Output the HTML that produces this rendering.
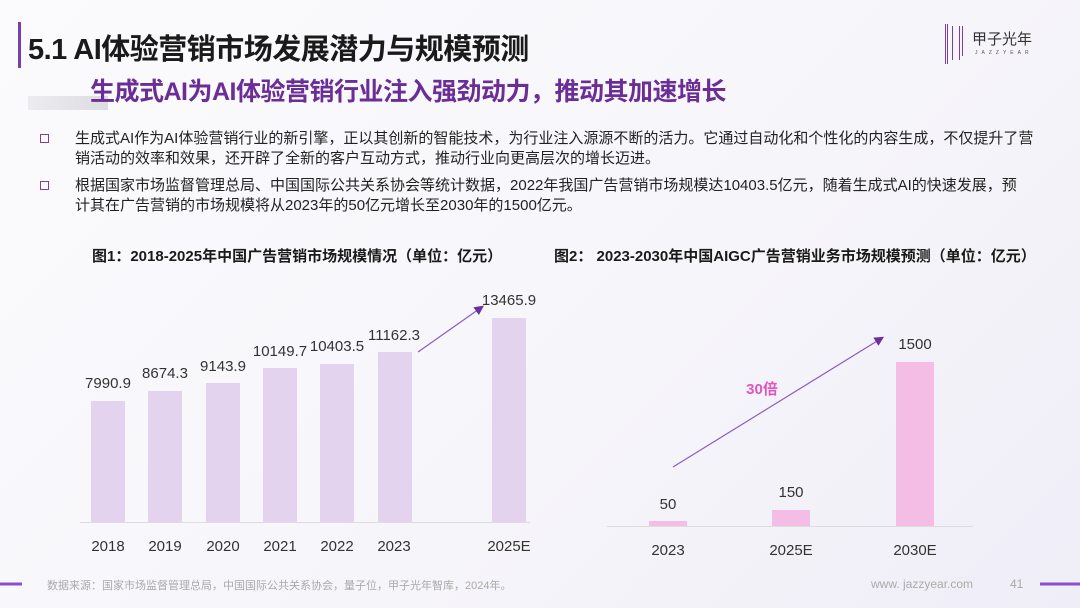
<!DOCTYPE html>
<html><head><meta charset="utf-8"><style>
*{margin:0;padding:0;box-sizing:border-box}
body{width:1080px;height:608px;overflow:hidden;background:linear-gradient(135deg,#fbfbfd 0%,#f6f5fa 60%,#efedf7 100%);font-family:"Liberation Sans","Noto Sans CJK SC",sans-serif;position:relative;color:#222}
.a{position:absolute;white-space:nowrap}
</style></head><body>
<div class="a" style="left:18px;top:22px;width:3px;height:46px;background:#7a3fa8"></div>
<div class="a" style="left:28px;top:26px;font-size:29px;font-weight:bold;color:#1a1a1a;letter-spacing:-0.5px">5.1 AI体验营销市场发展潜力与规模预测</div>
<div class="a" style="left:28px;top:96px;width:80px;height:14px;background:linear-gradient(90deg,#ececf0,#dcdce2)"></div>
<div class="a" style="left:90px;top:72px;font-size:25px;font-weight:bold;color:#6b2d96;letter-spacing:-0.5px">生成式AI为AI体验营销行业注入强劲动力，推动其加速增长</div>
<div class="a" style="left:945px;top:24px;width:3px;height:40px;border-left:1px solid #7a3fa8;border-right:1px solid #7a3fa8"></div>
<div class="a" style="left:952px;top:26px;width:8px;height:34px;border-left:1px solid #7a3fa8;border-right:1px solid #7a3fa8"></div>
<div class="a" style="left:962px;top:26px;width:4px;height:30px;border-left:1px solid #7a3fa8"></div>
<div class="a" style="left:972px;top:28px;font-size:15px;color:#333">甲子光年</div>
<div class="a" style="left:975px;top:50px;font-size:5px;letter-spacing:4px;color:#555">JAZZYEAR</div>

<div class="a" style="left:40px;top:134px;width:9px;height:9px;border:1.5px solid #7a3fa8"></div>
<div class="a" style="left:40px;top:181px;width:9px;height:9px;border:1.5px solid #7a3fa8"></div>
<div class="a" style="left:75px;top:129px;font-size:15px;line-height:20px;color:#222">生成式AI作为AI体验营销行业的新引擎，正以其创新的智能技术，为行业注入源源不断的活力。它通过自动化和个性化的内容生成，不仅提升了营<br>销活动的效率和效果，还开辟了全新的客户互动方式，推动行业向更高层次的增长迈进。</div>
<div class="a" style="left:75px;top:176px;font-size:15px;line-height:20px;color:#222">根据国家市场监督管理总局、中国国际公共关系协会等统计数据，2022年我国广告营销市场规模达10403.5亿元，随着生成式AI的快速发展，预<br>计其在广告营销的市场规模将从2023年的50亿元增长至2030年的1500亿元。</div>

<div class="a" style="left:92px;top:245px;font-size:15px;font-weight:bold;color:#1a1a1a">图1：2018-2025年中国广告营销市场规模情况（单位：亿元）</div>
<div class="a" style="left:554px;top:245px;font-size:15px;font-weight:bold;color:#1a1a1a">图2： 2023-2030年中国AIGC广告营销业务市场规模预测（单位：亿元）</div>

<svg class="a" style="left:0;top:0" width="1080" height="608">
<defs><marker id="m" markerWidth="8" markerHeight="8" refX="6" refY="4" orient="auto"><path d="M0,0 L8,4 L0,8 z" fill="#6a2fa0"/></marker></defs>
<g fill="#e4d3ef">
<rect x="91" y="401" width="34" height="121"/><rect x="148" y="391" width="34" height="131"/><rect x="206" y="383" width="34" height="139"/><rect x="263" y="368" width="34" height="154"/><rect x="320" y="364" width="34" height="158"/><rect x="378" y="352" width="34" height="170"/><rect x="492" y="318" width="34" height="204"/>
</g>
<line x1="80" y1="522.5" x2="530" y2="522.5" stroke="#ddd" stroke-width="1"/>
<g font-size="15" fill="#333" text-anchor="middle" font-family="Liberation Sans,sans-serif">
<text x="108" y="388">7990.9</text><text x="165" y="378">8674.3</text><text x="223" y="371">9143.9</text><text x="280" y="356">10149.7</text><text x="337" y="351">10403.5</text><text x="394" y="340">11162.3</text><text x="509" y="305">13465.9</text>
<text x="108" y="551">2018</text><text x="165" y="551">2019</text><text x="223" y="551">2020</text><text x="280" y="551">2021</text><text x="337" y="551">2022</text><text x="394" y="551">2023</text><text x="509" y="551">2025E</text>
</g>
<line x1="418" y1="352" x2="482" y2="307" stroke="#8a5cc0" stroke-width="1.2" marker-end="url(#m)"/>
<g fill="#f4bde6"><rect x="649" y="521" width="38" height="5"/><rect x="772" y="510" width="38" height="16"/><rect x="896" y="362" width="38" height="164"/></g>
<line x1="607" y1="526.5" x2="973" y2="526.5" stroke="#ddd"/>
<g font-size="15" fill="#333" text-anchor="middle" font-family="Liberation Sans,sans-serif">
<text x="668" y="509">50</text><text x="791" y="497">150</text><text x="915" y="349">1500</text>
<text x="668" y="555">2023</text><text x="791" y="555">2025E</text><text x="915" y="555">2030E</text>
</g>
<line x1="673" y1="467" x2="882" y2="338" stroke="#8a5cc0" stroke-width="1.2" marker-end="url(#m)"/>
<text x="762" y="394" font-size="15" font-weight="bold" fill="#e055c0" text-anchor="middle" font-family="Liberation Sans,Noto Sans CJK SC,sans-serif">30倍</text>
<line x1="0" y1="584" x2="22" y2="584" stroke="#8a4fd0" stroke-width="3"/>
<line x1="1040" y1="584" x2="1080" y2="584" stroke="#8a4fd0" stroke-width="3"/>
</svg>
<div class="a" style="left:47px;top:577px;font-size:11px;color:#aaa">数据来源：国家市场监督管理总局，中国国际公共关系协会，量子位，甲子光年智库，2024年。</div>
<div class="a" style="left:871px;top:577px;font-size:12px;color:#aaa">www. jazzyear.com</div>
<div class="a" style="left:1010px;top:577px;font-size:12px;color:#aaa">41</div>
</body></html>
